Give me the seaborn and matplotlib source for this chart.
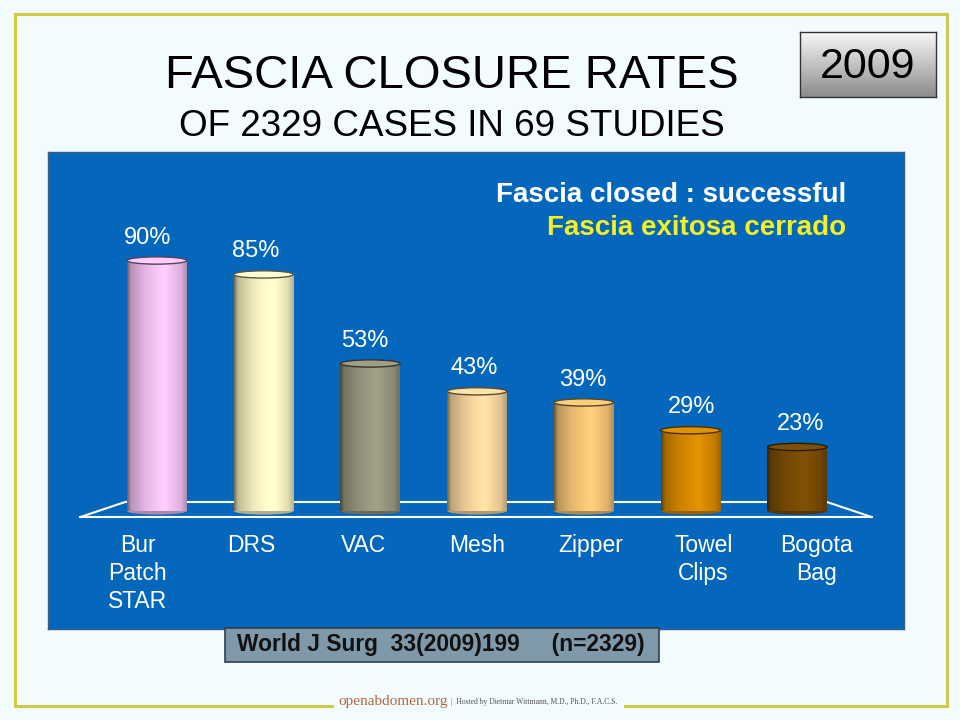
import numpy as np
import pandas as pd
import matplotlib
matplotlib.use('Agg')
import matplotlib.pyplot as plt
import seaborn as sns
from matplotlib.patches import Rectangle, Ellipse
from matplotlib.colors import to_rgb

# chart data
categories = ['Bur\nPatch\nSTAR', 'DRS', 'VAC', 'Mesh', 'Zipper', 'Towel\nClips', 'Bogota\nBag']
closure_rates = [90, 85, 53, 43, 39, 29, 23]
bar_colors = ['#f5c4f5', '#fdf8c6', '#9b9881', '#fbd9a0', '#f7c677', '#d98b00', '#7a4d05']

df = pd.DataFrame({'method': categories, 'rate': closure_rates})

sns.set_theme(style='white')
plt.rcParams['font.family'] = ['Liberation Sans', 'DejaVu Sans']

bg = '#f2fbfd'
panel = '#0467bb'

fig = plt.figure(figsize=(9.6, 7.2), dpi=100, facecolor=bg)

# slide frame
fig.patches.append(Rectangle((15 / 960, 1 - 706 / 720), 932 / 960, 692 / 720,
                             transform=fig.transFigure, fill=False,
                             edgecolor='#cfc84a', linewidth=2.2))

# blue panel axes
ax = fig.add_axes([48 / 960, 1 - 629 / 720, 856 / 960, 477 / 720])
ax.set_facecolor(panel)
for s in ax.spines.values():
    s.set_color('#3a5f80')
    s.set_linewidth(1.0)

sns.barplot(data=df, x='method', y='rate', hue='method', palette=bar_colors,
            width=0.56, legend=False, ax=ax, saturation=1, edgecolor='none')

ax.set_xlim(-1.02, 7.0)
ax.set_ylim(-42.4, 129.0)
ax.set_xticks([])
ax.set_yticks([])
ax.set_xlabel('')
ax.set_ylabel('')

# floor outline
ax.plot([-0.30, 6.28], [3.2, 3.2], color='white', linewidth=1.5, zorder=1)
ax.plot([-0.30, -0.72], [3.2, -2.2], color='white', linewidth=1.5, zorder=1)
ax.plot([6.28, 6.70], [3.2, -2.2], color='white', linewidth=1.5, zorder=1)
ax.plot([-0.72, 6.70], [-2.2, -2.2], color='white', linewidth=1.5, zorder=1)

# cylinder-like shading on each bar
t = np.linspace(0, 1, 80)
shade_profile = np.interp(t, [0, 0.06, 0.3, 0.62, 0.9, 1.0],
                          [0.45, 0.75, 0.93, 1.06, 0.9, 0.72])
cap_h = 2.6
for patch, col in zip(ax.patches, bar_colors):
    rgb = np.array(to_rgb(col))
    img = np.clip(rgb[None, None, :] * shade_profile[None, :, None], 0, 1)
    x0, y0 = patch.get_x(), patch.get_y()
    w, h = patch.get_width(), patch.get_height()
    z = patch.get_zorder()
    im = ax.imshow(img, extent=[x0, x0 + w, y0, y0 + h], aspect='auto',
                   zorder=z + 0.1, interpolation='bicubic')
    im.set_clip_path(patch)
    # rounded bottom and top caps
    bottom = Ellipse((x0 + w / 2, y0), w, cap_h, facecolor=rgb * 0.7,
                     edgecolor='none', zorder=z + 0.05)
    ax.add_patch(bottom)
    top = Ellipse((x0 + w / 2, y0 + h), w, cap_h,
                  facecolor=np.clip(rgb * 1.04, 0, 1),
                  edgecolor=rgb * 0.35, linewidth=1.0, zorder=z + 0.3)
    ax.add_patch(top)

# value labels
for i, v in enumerate(closure_rates):
    xi = 3 + (i - 3) * 1.02 - 0.03
    ax.text(xi, v + 4.3, f'{v}%', ha='center', va='bottom', color='white',
            fontsize=17)

# category labels
for i, c in enumerate(categories):
    xi = 3 + (i - 3) * 1.06
    ax.text(xi, -8.3, c, ha='center', va='top', color='white', fontsize=16.5,
            linespacing=1.27)

# legend-like text
ax.text(0.932, 0.91, 'Fascia closed : successful',
        transform=ax.transAxes, ha='right', va='center', color='white',
        fontsize=20, fontweight='bold')
ax.text(0.932, 0.841, 'Fascia exitosa cerrado', transform=ax.transAxes,
        ha='right', va='center', color='#f4f024', fontsize=20,
        fontweight='bold')

# titles
fig.text(452 / 960, 1 - 76 / 720, 'FASCIA CLOSURE RATES', ha='center',
         va='center', fontsize=34, color='black')
fig.text(452 / 960, 1 - 126 / 720, 'OF 2329 CASES IN 69 STUDIES', ha='center',
         va='center', fontsize=26.5, color='black')

# year box with gradient
yax = fig.add_axes([800 / 960, 1 - 97 / 720, 136 / 960, 65 / 720])
grad = np.linspace(0.97, 0.55, 50)[:, None] * np.ones((50, 2))
yax.imshow(grad, cmap='gray', vmin=0, vmax=1, aspect='auto',
           extent=[0, 1, 0, 1])
yax.set_xticks([])
yax.set_yticks([])
for s in yax.spines.values():
    s.set_color('#333333')
    s.set_linewidth(1.0)
yax.text(0.5, 0.46, '2009', ha='center', va='center', fontsize=31,
         color='black', transform=yax.transAxes)

# citation box
fig.patches.append(Rectangle((225 / 960, 1 - 662 / 720), 434 / 960, 34 / 720,
                             transform=fig.transFigure, facecolor='#7f99aa',
                             edgecolor='#2f3f4f', linewidth=1.2, zorder=5))
fig.text(237 / 960, 1 - 645 / 720, 'World J Surg  33(2009)199     (n=2329)',
         ha='left', va='center', fontsize=16.4, fontweight='bold',
         color='#111111', zorder=6)

# footer
fig.patches.append(Rectangle((334 / 960, 1 - 712 / 720), 290 / 960, 18 / 720,
                             transform=fig.transFigure, facecolor=bg,
                             edgecolor='none', zorder=3))
fig.text(338 / 960, 1 - 702 / 720, 'openabdomen.org', ha='left', va='center',
         fontsize=11, color='#b06840', family='Liberation Serif', zorder=4)
fig.text(451 / 960, 1 - 702 / 720, '|  Hosted by Dietmar Wittmann, M.D., Ph.D., F.A.C.S.',
         ha='left', va='center', fontsize=5.5, color='#555555',
         family='Liberation Serif', zorder=4)

fig.savefig('out.png', dpi=100, facecolor=bg)
